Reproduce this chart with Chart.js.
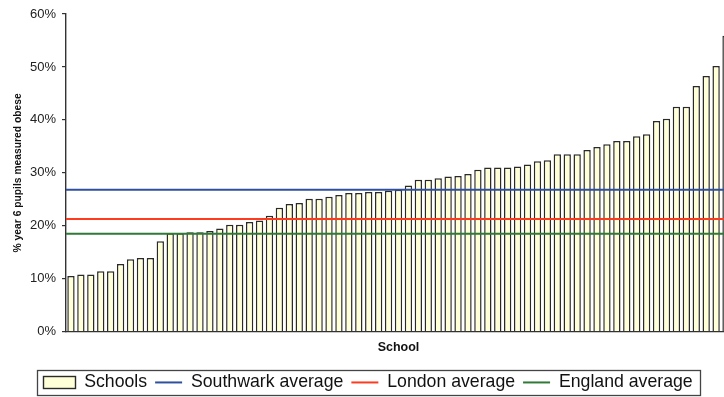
<!DOCTYPE html>
<html>
<head>
<meta charset="utf-8">
<script src="https://cdn.jsdelivr.net/npm/chart.js@4/dist/chart.umd.min.js"></script>
<style>
  html, body { margin: 0; padding: 0; background: #fff; overflow: hidden; }
  #wrap { position: relative; width: 732px; height: 397px; }
</style>
</head>
<body>
<div id="wrap"><canvas id="chart"></canvas></div>
<script>
// Share of year 6 pupils measured obese, one bar per school, sorted ascending
const schoolValues = [
  10.5, 10.8, 10.8, 11.4, 11.4, 12.8, 13.7, 13.9, 13.9, 17.1,
  18.6, 18.6, 18.8, 18.8, 19.0, 19.5, 20.2, 20.2, 20.7, 21.0,
  21.9, 23.4, 24.1, 24.3, 25.1, 25.1, 25.5, 25.8, 26.2, 26.2,
  26.4, 26.4, 26.6, 26.8, 27.6, 28.7, 28.7, 29.0, 29.3, 29.4,
  29.8, 30.6, 31.0, 31.0, 31.0, 31.2, 31.6, 32.2, 32.4, 33.5,
  33.5, 33.5, 34.3, 34.9, 35.4, 36.0, 36.0, 36.9, 37.3, 39.8,
  40.2, 42.5, 42.5, 46.4, 48.3, 50.2, 55.9
];
const schoolLabels = schoolValues.map((_, i) => 'School ' + (i + 1));

// Reference averages drawn as horizontal lines
const southwarkAverage = 26.8;
const londonAverage = 21.3;
const englandAverage = 18.5;

const yTicks = [0, 10, 20, 30, 40, 50, 60];

const BAR_FILL = '#FFFFD8';
const BAR_EDGE = '#2a2a2a';
const BLUE = '#2f4f9f';
const RED = '#ff3b1f';
const GREEN = '#2f7a36';
const FONT = '"Liberation Sans", Arial, sans-serif';

function avgLine(label, value, color) {
  return {
    type: 'line',
    label: label,
    data: [{ x: 0, y: value }, { x: 1, y: value }],
    xAxisID: 'xLine',
    borderColor: color,
    backgroundColor: color,
    borderWidth: 2,
    pointRadius: 0,
    fill: false,
    order: 0
  };
}

// Legend row sits a little lower and further right than the default layout puts it
const legendShift = {
  id: 'legendShift',
  afterLayout(chart) {
    const lg = chart.legend;
    if (!lg) return;
    lg.top += 4.3;
    lg.bottom += 4.3;
    lg.left += 5;
    lg.right += 5;
  }
};

// Frame around the legend row plus the legend swatches
const legendFrame = {
  id: 'legendFrame',
  afterDraw(chart) {
    const lg = chart.legend;
    if (!lg || !lg.legendHitBoxes || !lg.legendHitBoxes.length) return;
    const boxes = lg.legendHitBoxes;
    const ctx = chart.ctx;
    const boxW = lg.options.labels.boxWidth;
    const first = boxes[0];
    const last = boxes[boxes.length - 1];
    const cy = first.top + first.height / 2;
    ctx.save();
    lg.legendItems.forEach((item, i) => {
      const hb = boxes[i];
      if (item.lineSwatch) {
        ctx.strokeStyle = item.lineSwatch;
        ctx.lineWidth = 2;
        ctx.beginPath();
        ctx.moveTo(hb.left, cy);
        ctx.lineTo(hb.left + boxW, cy);
        ctx.stroke();
      } else {
        const x0 = Math.round(hb.left - 5) + 0.5;
        const y0 = Math.round(cy - 6) + 0.5;
        ctx.fillStyle = BAR_FILL;
        ctx.strokeStyle = BAR_EDGE;
        ctx.lineWidth = 1.4;
        ctx.fillRect(x0, y0, boxW + 5, 12);
        ctx.strokeRect(x0, y0, boxW + 5, 12);
      }
    });
    const left = Math.round(first.left - 11) + 0.5;
    const right = Math.round(last.left + last.width + 7) + 0.5;
    const top = Math.round(cy - 12.5) + 0.5;
    const bottom = Math.round(cy + 12.5) + 0.5;
    ctx.strokeStyle = '#444';
    ctx.lineWidth = 1.3;
    ctx.strokeRect(left, top, right - left, bottom - top);
    ctx.restore();
  }
};

new Chart(document.getElementById('chart'), {
  data: {
    labels: schoolLabels,
    datasets: [
      {
        type: 'bar',
        label: 'Schools',
        data: schoolValues,
        backgroundColor: BAR_FILL,
        borderColor: BAR_EDGE,
        borderWidth: 1.5,
        categoryPercentage: 1,
        barPercentage: 0.74,
        grouped: false,
        xAxisID: 'x',
        order: 1
      },
      avgLine('Southwark average', southwarkAverage, BLUE),
      avgLine('London average', londonAverage, RED),
      avgLine('England average', englandAverage, GREEN)
    ]
  },
  plugins: [legendShift, legendFrame],
  options: {
    responsive: true,
    maintainAspectRatio: false,
    animation: false,
    layout: { padding: { top: 14, right: 1, bottom: 0, left: 0 } },
    plugins: {
      tooltip: { enabled: false },
      title: { display: false },
      legend: {
        display: true,
        position: 'bottom',
        labels: {
          color: '#111',
          font: { family: FONT, size: 17.7 },
          boxWidth: 27,
          boxHeight: 12,
          padding: 8,
          generateLabels(chart) {
            return chart.data.datasets.map((ds, i) => {
              const isBar = ds.type === 'bar';
              return {
                text: ds.label,
                datasetIndex: i,
                fillStyle: 'rgba(0,0,0,0)',
                strokeStyle: 'rgba(0,0,0,0)',
                lineWidth: 0,
                fontColor: '#111',
                hidden: false,
                lineSwatch: isBar ? null : ds.borderColor
              };
            });
          }
        }
      }
    },
    scales: {
      x: {
        type: 'category',
        position: 'bottom',
        offset: true,
        grid: { display: false, drawTicks: false },
        border: { display: true, color: '#333', width: 1.2 },
        ticks: { display: false },
        title: {
          display: true,
          text: 'School',
          color: '#111',
          font: { family: FONT, size: 12.5, weight: 'bold' },
          padding: { top: 0, bottom: 6 }
        },
        afterFit(scale) { scale.height = 29.6; }
      },
      xLine: {
        type: 'linear',
        display: false,
        min: 0,
        max: 1
      },
      y: {
        type: 'linear',
        position: 'left',
        min: 0,
        max: 60,
        afterBuildTicks(scale) { scale.ticks = yTicks.map(v => ({ value: v })); },
        grid: { display: true, drawOnChartArea: false, drawTicks: true, tickLength: 4, color: '#333', lineWidth: 1.2 },
        border: { display: true, color: '#333', width: 1.4 },
        ticks: {
          color: '#222',
          padding: 6,
          font: { family: FONT, size: 13 },
          callback: v => v + '%'
        },
        title: {
          display: true,
          text: '% year 6 pupils measured obese',
          color: '#111',
          font: { family: FONT, size: 10.3, weight: 'bold' },
          padding: { top: 12, bottom: 0 }
        },
        afterFit(scale) { scale.width = 66; }
      }
    }
  }
});
</script>
</body>
</html>
